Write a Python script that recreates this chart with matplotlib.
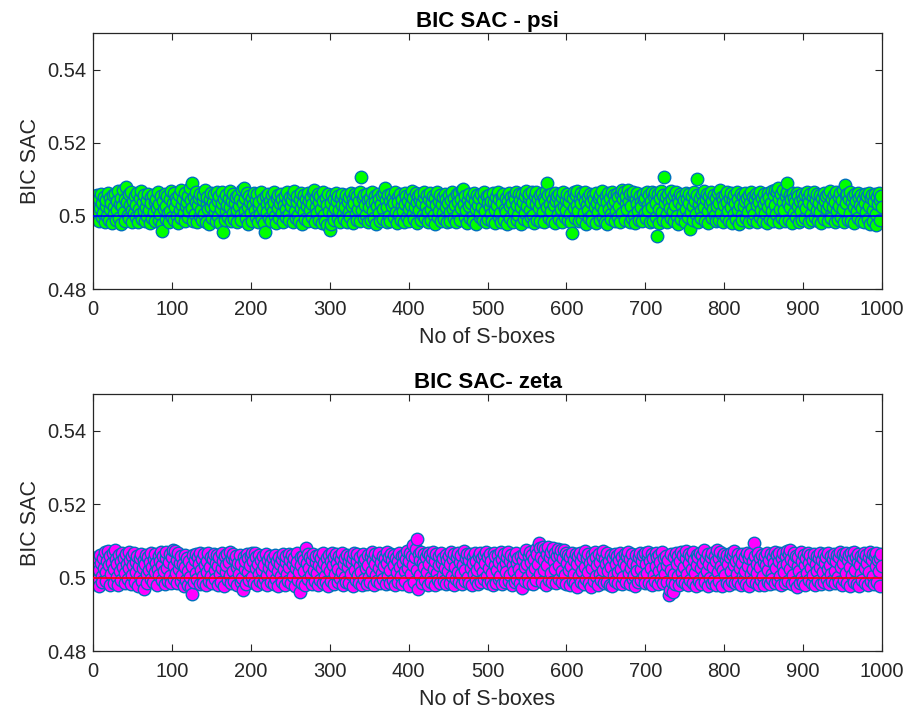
import numpy as np
import matplotlib
matplotlib.use("Agg")
import matplotlib.pyplot as plt

plt.rcParams['font.family'] = ['Liberation Sans', 'DejaVu Sans']

# BIC SAC of each S-box, stored in units of 1e-4
psi_sac = [
    5003, 5055, 4992, 5031, 5058, 5012, 4986, 5047, 5021, 5060, 4998, 5036, 5009, 5052, 4983, 5027, 5044, 5001, 5063, 4990, 5018, 5049, 5035, 4981, 5057,
    5024, 5006, 5061, 4988, 5040, 5015, 5068, 4995, 5033, 5050, 4979, 5026, 5072, 5011, 5045, 4987, 5078, 5038, 5002, 5059, 4993, 5029, 5066, 5017, 4984,
    5042, 5008, 5054, 4996, 5030, 5062, 4982, 5020, 5048, 5005, 5069, 4991, 5037, 5013, 5056, 4985, 5025, 5043, 4999, 5061, 5016, 4980, 5051, 5034, 4994,
    5058, 5010, 5039, 4986, 5047, 5022, 5064, 4989, 5032, 5004, 5053, 4977, 4958, 5040, 5019, 5060, 4992, 5028, 5055, 5007, 4983, 5046, 5014, 5067, 4997,
    5035, 5062, 4988, 5023, 5050, 5001, 5041, 4981, 5058, 5016, 5070, 4994, 5030, 5047, 5009, 4985, 5063, 5026, 5038, 4996, 5054, 5012, 5075, 5044, 5090,
    5021, 4987, 5052, 5006, 5039, 5065, 4983, 5029, 5048, 4999, 5060, 5015, 4990, 5043, 5057, 5004, 5070, 4984, 5033, 5051, 5018, 4979, 5046, 5062, 5025,
    4993, 5037, 5059, 5010, 5027, 4986, 5064, 5041, 5000, 5053, 4980, 5020, 5066, 5035, 4955, 5045, 4989, 5057, 5012, 5031, 4997, 5050, 5068, 5023, 4985,
    5040, 5007, 5061, 4992, 5034, 5052, 5017, 4982, 5058, 5028, 5045, 5003, 4988, 5071, 5036, 5076, 5048, 5013, 4995, 5062, 5024, 4979, 5055, 5039, 5008,
    5050, 4987, 5030, 5063, 5016, 4998, 5044, 5059, 4983, 5025, 5037, 5005, 5066, 4991, 5047, 5020, 4981, 4955, 5054, 5033, 5011, 5060, 4994, 5042, 5027,
    4986, 5056, 5014, 5039, 5065, 5001, 4980, 5049, 5022, 5058, 4993, 5035, 5061, 5009, 5046, 4984, 5030, 5053, 5018, 4997, 5064, 5041, 5006, 4989, 5052,
    5026, 5043, 4982, 5060, 5068, 5012, 4995, 5038, 5055, 5003, 4987, 5047, 5021, 5063, 4979, 5034, 5057, 5010, 4992, 5045, 5028, 5062, 4985, 5040, 5015,
    5051, 4998, 5033, 5066, 5070, 4983, 5024, 5048, 5007, 5059, 4990, 5037, 5054, 5019, 4981, 5064, 5042, 5002, 4986, 5050, 5029, 4975, 5061, 5013, 4962,
    4978, 5036, 5058, 5009, 5045, 4988, 5022, 5063, 5040, 4994, 5055, 5016, 4982, 5049, 5031, 5060, 5004, 4991, 5044, 5025, 5057, 4984, 5038, 5011, 5052,
    4997, 5062, 5027, 5046, 4980, 5034, 5059, 5006, 4989, 5053, 5020, 5041, 4985, 5064, 5105, 5015, 5048, 4993, 5057, 5030, 5002, 5061, 4982, 5043, 5024,
    5050, 4988, 5036, 5065, 5012, 4995, 5054, 5039, 4979, 5028, 5060, 5008, 5047, 4986, 5033, 5058, 5018, 4991, 5063, 5075, 5044, 4983, 5023, 5056, 5001,
    5040, 4987, 5061, 5026, 5049, 4996, 5035, 5066, 5010, 4981, 5052, 5037, 5004, 5059, 4990, 5029, 5045, 5014, 4984, 5062, 5032, 5055, 4998, 5042, 5019,
    4985, 5057, 5031, 5068, 5006, 5048, 4992, 5025, 5063, 5039, 4980, 5053, 5016, 5044, 5060, 4989, 5034, 5002, 5051, 5066, 4994, 5027, 5058, 5011, 4983,
    5046, 5062, 5020, 4988, 5037, 5055, 5003, 4979, 5049, 5029, 5064, 4996, 5041, 5013, 5058, 4986, 5032, 5052, 5008, 4991, 5061, 5024, 5045, 4982, 5035,
    5056, 5010, 4987, 5043, 5065, 5019, 4995, 5050, 5030, 4983, 5059, 5005, 5038, 5062, 4990, 5047, 5022, 5070, 5074, 5033, 4998, 5054, 5015, 4981, 5044,
    5027, 5060, 4993, 5036, 5052, 5001, 4985, 5063, 5040, 5018, 4979, 5057, 5031, 5048, 4996, 5009, 5061, 5025, 4988, 5045, 5066, 5012, 4983, 5053, 5034,
    4991, 5058, 5023, 5042, 5004, 4986, 5062, 5038, 5016, 4980, 5051, 5029, 5064, 4997, 5046, 5007, 4984, 5055, 5035, 5060, 4989, 5020, 5049, 5011, 4978,
    5041, 5063, 5026, 4994, 5052, 5034, 4982, 5057, 5014, 5046, 5065, 4988, 5030, 5002, 5059, 5043, 4979, 5024, 5061, 5037, 4992, 5054, 5008, 5068, 5028,
    4985, 5048, 5060, 5017, 4996, 5039, 5064, 5003, 4981, 5053, 5032, 5066, 4990, 5045, 5021, 5058, 4987, 5036, 5062, 5010, 5050, 4983, 5042, 5068, 5090,
    5025, 5056, 4995, 5033, 5061, 5012, 4986, 5047, 5029, 5063, 4980, 5040, 5054, 5006, 4992, 5059, 5035, 5019, 4984, 5051, 5065, 5027, 4998, 5044, 5015,
    5060, 4988, 5038, 5053, 5004, 4982, 4952, 5049, 5066, 5022, 4994, 5057, 5031, 5069, 5013, 4986, 5046, 5062, 5036, 4990, 5054, 5008, 5041, 5064, 4979,
    5030, 5052, 5017, 4993, 5061, 5039, 5002, 4985, 5057, 5045, 5024, 4981, 5063, 5034, 5011, 5050, 4989, 5058, 5026, 5067, 4996, 5043, 5015, 4983, 5055,
    5037, 4979, 5062, 5020, 5048, 5005, 4991, 5064, 5033, 5056, 4986, 5040, 5014, 5060, 4997, 5051, 5028, 4982, 5059, 5070, 5009, 5045, 5066, 4988, 5035,
    5053, 5018, 5072, 5042, 4984, 5061, 5027, 4995, 5058, 5066, 5003, 4980, 5047, 5032, 5063, 5012, 4990, 5055, 5039, 5023, 4985, 5060, 5044, 5007, 5050,
    4993, 5064, 5031, 5015, 5057, 4982, 5041, 5066, 5025, 4987, 5053, 5062, 5036, 4998, 4945, 5060, 5019, 4980, 5048, 5068, 5010, 5056, 4989, 5105, 5034,
    5052, 5004, 4983, 5061, 5039, 5022, 5067, 4994, 5046, 5013, 4986, 5058, 5030, 5064, 5001, 4979, 5050, 5037, 5061, 4991, 5026, 5055, 5008, 5043, 4984,
    5062, 5020, 5047, 4996, 5035, 5059, 4965, 5011, 5053, 5028, 4988, 5064, 5040, 5005, 5057, 5100, 4982, 5032, 5050, 5016, 4993, 5061, 5038, 5068, 5024,
    4987, 5045, 5060, 5012, 4980, 5054, 5033, 5066, 4995, 5041, 5019, 5058, 5003, 4985, 5049, 5027, 5063, 4990, 5036, 5070, 5009, 5052, 4983, 5044, 5030,
    5056, 4998, 5039, 5065, 5014, 4986, 5050, 5023, 5062, 4981, 5043, 5006, 5058, 5034, 4992, 5064, 5017, 5047, 4979, 5031, 5060, 5002, 4988, 5053, 5026,
    5040, 5063, 4994, 5048, 5011, 5057, 4984, 5035, 5066, 5021, 4990, 5052, 5004, 5045, 5061, 4982, 5029, 5055, 5038, 4997, 5064, 5015, 5049, 4986, 5032,
    5059, 5007, 5043, 4980, 5062, 5025, 5051, 4992, 5036, 5068, 5013, 4987, 5056, 5072, 5030, 5004, 5064, 5076, 4983, 5047, 5020, 5060, 4995, 5039, 5070,
    5016, 4985, 5053, 5066, 5090, 5034, 4990, 5058, 5024, 5045, 4981, 5062, 5009, 5050, 5037, 4996, 5063, 5028, 5054, 4984, 5041, 5012, 5060, 4988, 5047,
    5033, 5056, 4993, 5021, 5064, 5048, 4982, 5038, 5059, 5005, 4989, 5052, 5030, 5066, 4997, 5043, 5015, 5061, 4986, 5035, 5057, 5010, 4980, 5049, 5026,
    5063, 4991, 5040, 5054, 5018, 4985, 5060, 5031, 5067, 5002, 4994, 5046, 5023, 5058, 4982, 5037, 5065, 5012, 4988, 5051, 5028, 5062, 4996, 5044, 5070,
    5019, 4983, 5085, 5056, 5034, 5061, 4990, 5047, 5008, 5064, 4986, 5039, 5053, 5025, 4980, 5059, 5042, 5014, 5062, 4993, 5050, 5031, 4987, 5057, 5021,
    5045, 4984, 5061, 5036, 5010, 5053, 4991, 5063, 5028, 4979, 5048, 5058, 5016, 4986, 5040, 5060, 5005, 4976, 5052, 5033, 5062, 4990, 5044, 5055, 5025,
]

zeta_sac = [
    5048, 5010, 4983, 5030, 5056, 4995, 5021, 4976, 5062, 5039, 5005, 4988, 5052, 5027, 5069, 5014, 4990, 5044, 5072, 5033, 4981, 5058, 5009, 5041, 5066,
    5023, 4986, 5075, 5050, 5001, 5036, 4979, 5061, 5017, 5045, 4993, 5068, 5029, 5054, 4984, 5012, 5063, 5038, 4997, 5070, 5025, 5047, 4982, 5059, 5006,
    5034, 5067, 4989, 5042, 5015, 5060, 4978, 5031, 5053, 5003, 5065, 4992, 5026, 5049, 4968, 5037, 5062, 5011, 4985, 5057, 5020, 5043, 4996, 5068, 5030,
    4987, 5051, 5014, 5064, 5039, 4980, 5024, 5058, 5007, 5046, 5071, 4994, 5033, 5060, 5018, 4983, 5052, 5070, 5027, 4991, 5042, 5063, 5004, 4986, 5055,
    5075, 5032, 4997, 5072, 5013, 5049, 4984, 5066, 5023, 5040, 4990, 5059, 5008, 5036, 4978, 5061, 5028, 4993, 5054, 5017, 4981, 5045, 5002, 4975, 4955,
    5031, 5062, 4988, 5047, 5065, 5012, 4995, 5056, 5038, 4982, 5068, 5020, 5051, 5005, 4986, 5063, 5034, 4979, 5044, 5016, 5066, 4992, 5029, 5057, 5003,
    4985, 5050, 5064, 5021, 4996, 5040, 5061, 4981, 5032, 5055, 5009, 4989, 5067, 5026, 5046, 4977, 5058, 5014, 5035, 5063, 4993, 5042, 5069, 5007, 4984,
    5053, 5065, 5019, 4990, 5048, 5060, 5030, 4980, 5041, 5011, 5062, 4987, 5036, 4998, 4965, 5057, 5024, 5045, 4983, 5064, 5015, 5052, 4994, 5033, 5059,
    5002, 5068, 5044, 4986, 5066, 5027, 5055, 4979, 5038, 5010, 5061, 4992, 5049, 5021, 4985, 5058, 5034, 4997, 5063, 5006, 4980, 5047, 5025, 5060, 4989,
    5040, 5013, 5054, 4983, 5031, 5062, 4995, 5046, 5018, 4978, 5057, 5036, 5004, 4988, 5050, 5065, 5023, 4981, 5043, 5059, 5011, 4991, 5064, 5029, 5048,
    4984, 5061, 5037, 5003, 5052, 4977, 5026, 5066, 5042, 4993, 5014, 4962, 5056, 5033, 4986, 5060, 5019, 5047, 4980, 5080, 5039, 5063, 4996, 5027, 5055,
    5008, 4982, 5049, 5064, 5021, 4990, 5043, 5058, 5012, 4979, 5035, 5061, 4994, 5052, 5025, 4985, 5067, 5040, 5005, 4988, 5054, 5030, 4976, 5062, 5017,
    5045, 4992, 5068, 5033, 4983, 5057, 5009, 5064, 5041, 4987, 5023, 5060, 4998, 5050, 5015, 5066, 4981, 5036, 5054, 5002, 4989, 5062, 5028, 5046, 4984,
    5059, 5011, 5039, 4978, 5053, 5068, 5020, 4993, 5044, 5063, 5006, 4986, 5031, 5056, 5016, 4980, 5065, 5042, 4995, 5051, 5027, 4983, 5061, 5034, 5001,
    4988, 5058, 5070, 5018, 5047, 4979, 5037, 5064, 5008, 4991, 5055, 5025, 5067, 4985, 5043, 5012, 5060, 4997, 5032, 5052, 4982, 5069, 5040, 5004, 5057,
    5022, 4986, 5063, 5048, 4994, 5035, 5061, 4980, 5053, 5014, 5045, 4989, 5066, 5029, 5003, 5058, 4983, 5039, 5062, 5017, 4992, 5050, 5073, 5026, 4978,
    5044, 5067, 5011, 5060, 5090, 5034, 4987, 5055, 5078, 5105, 5021, 4970, 5063, 5049, 5006, 5070, 4985, 5041, 5064, 5028, 4994, 5057, 5015, 5068, 4981,
    5036, 5061, 5002, 4988, 5052, 5069, 5024, 4979, 5046, 5065, 5013, 4993, 5058, 5033, 4984, 5066, 5040, 5008, 5054, 4990, 5027, 5062, 4982, 5047, 5019,
    5060, 4986, 5038, 5071, 5004, 5050, 4980, 5063, 5029, 4995, 5056, 5016, 5067, 4988, 5043, 5009, 5061, 4983, 5034, 5072, 5022, 4991, 5053, 5065, 5001,
    4985, 5048, 5063, 5026, 4979, 5057, 5039, 5010, 5066, 4993, 5044, 5020, 4982, 5059, 5068, 5031, 4988, 5052, 5014, 5062, 4997, 5041, 5070, 5005, 4984,
    5055, 5027, 5064, 4990, 5046, 5012, 4981, 5067, 5035, 5058, 4986, 5021, 5061, 5042, 4995, 5003, 5069, 4983, 5050, 5030, 5063, 4989, 5039, 5016, 5057,
    5071, 4992, 5044, 5008, 5062, 4980, 5033, 5055, 5019, 4987, 5066, 5040, 4996, 5052, 5024, 4984, 5060, 5011, 4971, 5047, 5064, 5029, 4990, 5075, 5037,
    5002, 5058, 4986, 5069, 5043, 5015, 5062, 4982, 5050, 5026, 5078, 4994, 5065, 5036, 5095, 5081, 5009, 5057, 4988, 5084, 5047, 5020, 5079, 4981, 5063,
    5033, 5082, 4993, 5056, 5071, 5012, 4987, 5080, 5044, 5024, 5066, 4984, 5058, 5078, 5035, 4996, 5061, 5075, 5017, 4989, 5052, 5074, 5006, 5067, 4983,
    5040, 5062, 5021, 4979, 5055, 5031, 5068, 4991, 5047, 5010, 4985, 5063, 4974, 5036, 5058, 5003, 5066, 4988, 5044, 5019, 5060, 4982, 5072, 5028, 4996,
    5053, 5065, 5014, 4984, 5039, 4975, 5061, 5026, 5048, 4990, 5070, 5005, 5056, 5033, 4981, 5064, 5042, 5011, 4993, 5059, 5073, 5022, 4986, 5050, 5036,
    4988, 5067, 5018, 5045, 4980, 5062, 5029, 4976, 5054, 5008, 5063, 4992, 5037, 5060, 5015, 4985, 5049, 5068, 5024, 4983, 5057, 5002, 5041, 5065, 4989,
    5032, 5058, 5070, 5012, 4982, 5051, 5027, 5063, 4995, 5040, 5006, 4978, 5062, 5035, 5019, 4987, 5055, 5066, 5023, 4993, 5046, 5061, 5004, 4984, 5068,
    5038, 5013, 5059, 5069, 4986, 5044, 5025, 4981, 5064, 5052, 5007, 4990, 5067, 5031, 5057, 4983, 5018, 5062, 5043, 4996, 5070, 5026, 4985, 5054, 5011,
    5060, 4989, 5034, 5048, 4952, 4966, 5063, 5021, 4988, 4960, 5055, 5009, 4982, 5066, 5037, 5003, 5059, 4980, 5045, 5069, 5016, 4992, 5061, 5030, 4985,
    5052, 5073, 5010, 4981, 5064, 5039, 4994, 5058, 5023, 5070, 4986, 5047, 5012, 4976, 5062, 5033, 5055, 4990, 5068, 5027, 4983, 5061, 5041, 5004, 5074,
    4988, 5051, 5017, 4976, 5063, 5036, 5000, 5057, 4984, 5066, 5029, 4993, 5060, 5045, 4980, 5076, 5014, 5053, 4990, 5069, 5032, 4978, 5058, 5022, 5064,
    5007, 5048, 4985, 5062, 5038, 4979, 5055, 5068, 5019, 4992, 5061, 5035, 5072, 4984, 5044, 5010, 5065, 4988, 5050, 5026, 4981, 5063, 5040, 5003, 4994,
    5057, 5018, 4983, 5066, 5031, 4977, 5052, 5064, 5009, 4990, 5045, 5024, 5095, 5060, 4986, 5037, 5013, 5068, 4981, 5054, 5028, 4993, 5062, 5005, 5043,
    4979, 5059, 5034, 5067, 4987, 5020, 5049, 4982, 5063, 5011, 4995, 5056, 5040, 5070, 4984, 5027, 5061, 4990, 5046, 5066, 5004, 4980, 5053, 5032, 5068,
    5015, 4986, 5058, 5072, 5038, 4992, 5063, 5023, 5076, 5050, 4983, 5008, 5066, 5042, 4989, 5060, 4975, 5031, 5055, 5017, 4984, 5069, 5045, 5001, 4988,
    5061, 5035, 4980, 5054, 5012, 5067, 4993, 5040, 5062, 5026, 4985, 5049, 5006, 5064, 4979, 5037, 5058, 5019, 4991, 5052, 5068, 5030, 4983, 5047, 5014,
    5063, 4988, 5041, 5056, 4996, 5024, 5066, 4982, 5034, 5059, 5009, 4990, 5051, 5065, 5018, 4984, 5045, 5061, 5002, 4987, 5055, 5070, 5028, 4981, 5063,
    5039, 4993, 5058, 5067, 5013, 4985, 5048, 5062, 4978, 5030, 5066, 5006, 5053, 4989, 5069, 5021, 5057, 4982, 5043, 5064, 4976, 5035, 5060, 5011, 4994,
    5052, 5068, 5025, 4986, 5061, 5040, 4980, 5056, 5016, 5070, 4991, 5047, 5063, 5003, 4983, 5058, 5031, 5066, 4988, 5049, 5019, 4977, 5054, 5065, 5032,
]

ideal_sac = 0.5
titles = ['BIC SAC - psi', 'BIC SAC- zeta']
face_colors = ['#00FF00', '#FF00FF']
line_colors = ['#0000FF', '#FF0000']
ytick_vals = [0.48, 0.5, 0.52, 0.54]
ytick_text = ['0.48', '0.5', '0.52', '0.54']
xtick_vals = [0, 100, 200, 300, 400, 500, 600, 700, 800, 900, 1000]

sboxes = np.arange(1, len(psi_sac) + 1)
series = [np.array(psi_sac) / 1e4, np.array(zeta_sac) / 1e4]

fig = plt.figure(figsize=(9.22, 7.22), dpi=100)
boxes = [[0.1009, 0.5997, 0.8557, 0.3546], [0.1009, 0.0983, 0.8557, 0.3560]]
grey = '#262626'

for box, vals, ttl, fc, lc in zip(boxes, series, titles, face_colors, line_colors):
    ax = fig.add_axes(box)
    ax.plot(sboxes, vals, 'o', ms=9, mfc=fc, mec='#0072BD', mew=1.0, zorder=2)
    ax.axhline(ideal_sac, color=lc, lw=1.2, zorder=3)
    ax.set_xlim(0, 1000)
    ax.set_ylim(0.48, 0.55)
    ax.set_xticks(xtick_vals)
    ax.set_yticks(ytick_vals)
    ax.set_yticklabels(ytick_text)
    ax.tick_params(direction='in', length=5, width=0.8, top=True, right=True,
                   labelsize=14.5, colors=grey)
    ax.tick_params(axis='x', pad=8)
    ax.tick_params(axis='y', pad=5)
    for sp in ax.spines.values():
        sp.set_color(grey)
        sp.set_linewidth(0.9)
    ax.set_title(ttl, fontsize=16, fontweight='bold', pad=4)
    ax.set_xlabel('No of S-boxes', fontsize=15.5, color=grey, labelpad=6)
    ax.set_ylabel('BIC SAC', fontsize=15.5, color=grey, labelpad=4)

fig.savefig('out.png', dpi=100)
